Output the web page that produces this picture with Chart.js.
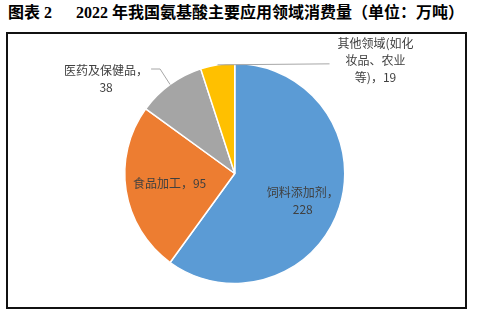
<!DOCTYPE html>
<html>
<head>
<meta charset="utf-8">
<script src="https://cdn.jsdelivr.net/npm/chart.js@4"></script>
<style>
  body { margin:0; background:#fff; width:480px; height:315px; position:relative; overflow:hidden; }
  .title { position:absolute; top:2px; font:bold 16px "Liberation Serif","Noto Sans CJK SC",serif; color:#000; white-space:nowrap; line-height:22px; }
  .chart-box { position:absolute; left:6px; top:32px; width:457px; height:273px; border:2px solid #111; }
  .chart-box canvas { display:block; }
</style>
</head>
<body>
<div class="title" style="left:8px">图表 2</div>
<div class="title" style="left:76px">2022 年我国氨基酸主要应用领域消费量（单位：万吨）</div>
<div class="chart-box"><canvas id="pie" width="457" height="273"></canvas></div>
<script>
// data
const categories = ['饲料添加剂', '食品加工', '医药及保健品', '其他领域(如化妆品、农业等)'];
const values = [228, 95, 38, 19];
const colors = ['#5B9BD5', '#ED7D31', '#A5A5A5', '#FFC000'];

// label text per slice (as wrapped in the original)
const labelLines = [
  ['饲料添加剂，', '228'],
  ['食品加工，95'],
  ['医药及保健品，', '38'],
  ['其他领域(如化', '妆品、农业', '等)，19'],
];
// how each label is placed: inside at a fraction of radius, or outside with a leader line
const labelPlace = [
  { inside:true, r:0.65, dy:5 },
  { inside:true, r:0.6, dy:0 },
  { inside:false, line:[[-10,-15.5],[-19,-15.5]], tx:-64, ty:-14.5 },
  { inside:false, line:[[112,-1]], tx:158, ty:-21 },
];

const labelPlugin = {
  id: 'pieLabels',
  afterDatasetsDraw(chart) {
    const ctx = chart.ctx;
    const arcs = chart.getDatasetMeta(0).data;
    ctx.save();
    ctx.font = '12px "Noto Sans CJK SC", sans-serif';
    ctx.fillStyle = '#404040';
    ctx.textAlign = 'center';
    ctx.textBaseline = 'middle';
    const lh = 17;
    arcs.forEach((arc, i) => {
      const p = arc.getProps(['x','y','startAngle','endAngle','outerRadius'], true);
      const mid = (p.startAngle + p.endAngle) / 2;
      const pl = labelPlace[i], lines = labelLines[i];
      let cx, cy;
      if (pl.inside) {
        cx = p.x + Math.cos(mid) * p.outerRadius * pl.r;
        cy = p.y + Math.sin(mid) * p.outerRadius * pl.r + pl.dy - (lines.length - 1) * lh / 2;
      } else {
        const ex = p.x + Math.cos(mid) * p.outerRadius;
        const ey = p.y + Math.sin(mid) * p.outerRadius;
        ctx.beginPath();
        ctx.strokeStyle = '#A6A6A6';
        ctx.lineWidth = 1;
        ctx.moveTo(ex, ey);
        pl.line.forEach(([dx, dy]) => ctx.lineTo(ex + dx, ey + dy));
        ctx.stroke();
        cx = ex + pl.tx;
        cy = ey + pl.ty;
      }
      lines.forEach((t, k) => ctx.fillText(t, cx, cy + k * lh));
    });
    ctx.restore();
  }
};

new Chart(document.getElementById('pie').getContext('2d'), {
  type: 'pie',
  data: {
    labels: categories,
    datasets: [{
      data: values,
      backgroundColor: colors,
      borderColor: '#fff',
      borderWidth: 1.5,
    }],
  },
  options: {
    responsive: false,
    animation: false,
    layout: { padding: { top: 28.75, bottom: 22.75, left: 116, right: 119.5 } },
    plugins: { legend: { display: false }, tooltip: { enabled: false }, title: { display: false } },
  },
  plugins: [labelPlugin],
});
</script>
</body>
</html>
